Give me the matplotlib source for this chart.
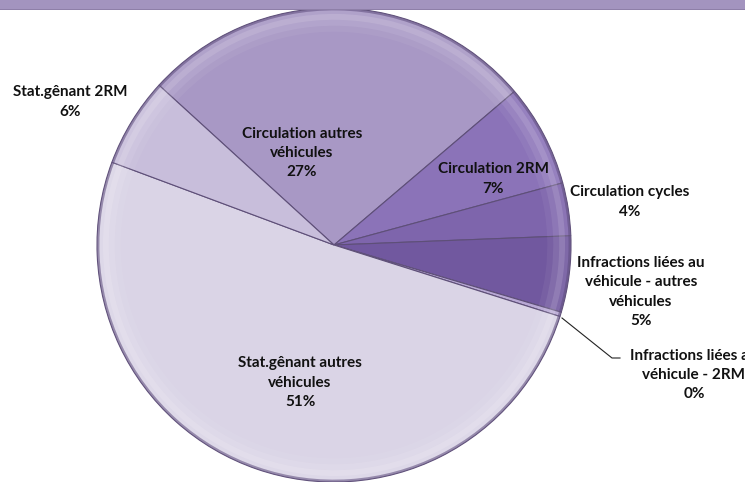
import matplotlib
matplotlib.use("Agg")
import matplotlib.pyplot as plt
from matplotlib.patches import Rectangle, Wedge
import numpy as np

# Data (clockwise from the upper-left boundary)
categories = [
    "Circulation autres\nvéhicules",
    "Circulation 2RM",
    "Circulation cycles",
    "Infractions liées au\nvéhicule - autres\nvéhicules",
    "Infractions liées au\nvéhicule - 2RM",
    "Stat.gênant autres\nvéhicules",
    "Stat.gênant 2RM",
]
values = [27.0, 7.0, 3.6, 5.2, 0.3, 50.8, 6.1]
colors = ["#A898C5", "#8B73B8", "#7E65AC", "#71589F", "#B8A8D4", "#DAD4E6", "#C8BEDB"]

W, H = 745, 482
fig = plt.figure(figsize=(W / 100, H / 100), dpi=100)
fig.patch.set_facecolor("white")

# pie axes: center (334,245) px, radius 237 px
cx, cy, R = 334, 245, 237
ax = fig.add_axes([(cx - R) / W, (H - cy - R) / H, 2 * R / W, 2 * R / H])
ax.axis("off")

wedges, _ = ax.pie(values, colors=colors, startangle=137.6, counterclock=False,
                   radius=1.0, center=(0, 0),
                   wedgeprops=dict(edgecolor="#5E4F78", linewidth=0.8))
ax.set_xlim(-1, 1)
ax.set_ylim(-1, 1)
ax.set_aspect("auto")
for w in wedges:
    w.set_clip_on(False)

# soft bevel-like highlights near the rim
for w in wedges:
    t1, t2 = w.theta1, w.theta2
    for r0, r1, a in [(0.975, 0.99, 0.10), (0.95, 0.975, 0.22), (0.925, 0.95, 0.12), (0.90, 0.925, 0.05)]:
        ax.add_patch(Wedge((0, 0), r1, t1, t2, width=r1 - r0, facecolor="white",
                           alpha=a, edgecolor="none", clip_on=False))
    ax.add_patch(Wedge((0, 0), 1.0, t1, t2, width=0.01, facecolor="#6A5A86",
                       alpha=0.6, edgecolor="none", clip_on=False))

# Top band
band = fig.add_axes([0, 1 - 10 / H, 1, 10 / H])
band.axis("off")
band.add_patch(Rectangle((0, 0), 1, 1, transform=band.transAxes, facecolor="#A394BF",
                         edgecolor="none"))
band.add_patch(Rectangle((0, 0), 1, 0.15, transform=band.transAxes, facecolor="#8E7FA8",
                         edgecolor="none"))

font = dict(family=["Lato", "DejaVu Sans"], fontweight="bold", fontsize=11,
            color="#111111", ha="center", va="center", linespacing=1.5)

def px(x, y):
    return x / W, 1 - y / H

total = sum(values)
pcts = ["%.0f%%" % (v / total * 100) for v in values]
label_pos = [(302, 153), (493, 179), (630, 202), (641, 292), (694, 375), (300, 383), (70, 102)]
for cat, pct, (x, y) in zip(categories, pcts, label_pos):
    fig.text(*px(x, y), cat + "\n" + pct, **font)

# leader line for the tiny slice
fig.add_artist(plt.Line2D([562 / W, 612 / W, 620 / W],
                          [1 - 318 / H, 1 - 358 / H, 1 - 358 / H],
                          color="#222222", linewidth=0.8))

fig.savefig("out.png", dpi=100, facecolor="white")
